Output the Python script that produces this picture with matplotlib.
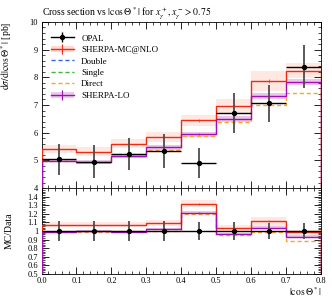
import numpy as np
import matplotlib
matplotlib.use("Agg")
import matplotlib.pyplot as plt
from matplotlib.lines import Line2D
from matplotlib.patches import Patch
from matplotlib.ticker import MultipleLocator

plt.rcParams['font.family'] = ['Liberation Serif', 'DejaVu Serif']
plt.rcParams['mathtext.fontset'] = 'stix'

# bins in |cos Theta*|
edges = np.array([0.0, 0.1, 0.2, 0.3, 0.4, 0.5, 0.6, 0.7, 0.8])

# OPAL data
data = np.array([5.04, 4.96, 5.22, 5.34, 4.90, 6.72, 7.06, 8.38])
data_err = np.array([0.57, 0.58, 0.58, 0.60, 0.54, 0.72, 0.66, 0.78])

# Sherpa-MC@NLO
nlo = np.array([5.40, 5.32, 5.61, 5.85, 6.45, 6.96, 7.86, 8.24])
nlo_band = np.array([0.15, 0.15, 0.17, 0.18, 0.20, 0.24, 0.36, 0.27])
nlo_err = np.array([0.04, 0.04, 0.05, 0.05, 0.06, 0.07, 0.08, 0.09])

# components
double = np.array([0.01, 0.01, 0.01, 0.01, 0.02, 0.02, 0.03, 0.04])
single = np.array([0.02, 0.03, 0.04, 0.08, 0.06, 0.10, 0.30, 0.38])
direct = np.array([4.97, 4.93, 5.22, 5.36, 5.88, 6.40, 7.00, 7.42])

# Sherpa-LO
lo = np.array([4.99, 4.94, 5.16, 5.47, 5.95, 6.50, 7.32, 7.83])
lo_band = np.array([0.06, 0.06, 0.07, 0.08, 0.09, 0.10, 0.12, 0.12])
lo_err = np.array([0.03, 0.03, 0.03, 0.04, 0.04, 0.05, 0.05, 0.06])

red = '#ee2a10'
blue = '#3366ee'
green = '#33bb33'
orange = '#ffa520'
purple = '#a010b0'

centers = 0.5 * (edges[1:] + edges[:-1])
halfw = 0.5 * np.diff(edges)

fig = plt.figure(figsize=(3.32, 3.00), dpi=100)
ax = fig.add_axes([0.125, 0.373, 0.842, 0.554])
rax = fig.add_axes([0.125, 0.087, 0.842, 0.286], sharex=ax)


def draw(a, d, d_err, n, n_band, n_err, dbl, sgl, dr, l, l_band, l_err):
    a.stairs(n + n_band, edges, baseline=n - n_band, fill=True, color='#ffd8d0', alpha=0.6, lw=0)
    a.stairs(l + l_band, edges, baseline=l - l_band, fill=True, color='#e0a0e0', alpha=0.6, lw=0)
    a.errorbar(centers, d, yerr=d_err, fmt='none', ecolor='0.3', elinewidth=1.3, zorder=5)
    a.errorbar(centers, d, xerr=halfw, fmt='none', ecolor='black', elinewidth=1.0, zorder=5)
    a.plot(centers, d, 'o', color='black', ms=2.8, zorder=6)
    a.stairs(n, edges, color=red, lw=1.0, zorder=4)
    a.errorbar(centers, n, yerr=n_err, fmt='none', ecolor=red, elinewidth=0.8, alpha=0.6, zorder=4)
    a.stairs(dbl, edges, color=blue, lw=1.0, ls=(0, (3, 2)), zorder=3)
    a.stairs(sgl, edges, color=green, lw=1.0, ls=(0, (3, 2)), zorder=3)
    a.stairs(dr, edges, color=orange, lw=1.0, ls=(0, (3, 2)), zorder=3)
    a.stairs(l, edges, color=purple, lw=1.0, zorder=4)
    a.errorbar(centers, l, yerr=l_err, fmt='none', ecolor=purple, elinewidth=0.8, alpha=0.6, zorder=4)


draw(ax, data, data_err, nlo, nlo_band, nlo_err, double, single, direct, lo, lo_band, lo_err)
draw(rax, data / data, data_err / data, nlo / data, nlo_band / data, nlo_err / data,
     double / data, single / data, direct / data, lo / data, lo_band / data, lo_err / data)

ax.set_xlim(0, 0.8)
ax.set_ylim(4, 10)
rax.set_ylim(0.5, 1.5)

for a in (ax, rax):
    a.tick_params(which='both', direction='in', top=True, right=True, labelsize=6, pad=2.5)
    a.tick_params(which='major', length=5, width=0.6)
    a.tick_params(which='minor', length=2.5, width=0.5)
    a.xaxis.set_major_locator(MultipleLocator(0.1))
    a.xaxis.set_minor_locator(MultipleLocator(0.02))
    for s in a.spines.values():
        s.set_linewidth(0.6)
ax.yaxis.set_major_locator(MultipleLocator(1))
ax.yaxis.set_minor_locator(MultipleLocator(0.2))
rax.set_yticks(np.arange(0.5, 1.45, 0.1))
rax.set_yticklabels(['0.5', '0.6', '0.7', '0.8', '0.9', '1', '1.1', '1.2', '1.3', '1.4'])
rax.yaxis.set_minor_locator(MultipleLocator(0.02))
ax.tick_params(labelbottom=False)

ax.set_title(r"Cross section vs $|\cos\Theta^*|$ for $x_\gamma^+, x_\gamma^- > 0.75$",
             loc='left', fontsize=7, pad=4)
ax.set_ylabel(r"$\mathrm{d}\sigma/\mathrm{d}|\cos\Theta^*|$ [pb]", loc='top', fontsize=7)
ax.yaxis.set_label_coords(-0.1, 1.0)
rax.set_ylabel("MC/Data", fontsize=7)
rax.yaxis.set_label_coords(-0.1, 0.5)
rax.set_xlabel(r"$|\cos\Theta^*|$", loc='right', fontsize=7, labelpad=0)

handles = [
    (Line2D([], [], color='black', lw=1.0, marker='|', ms=7, mew=1.0),
     Line2D([], [], color='black', lw=0, marker='o', ms=2.8)),
    (Patch(facecolor='#ffd8d0', edgecolor='none'),
     Line2D([], [], color=red, lw=1.0, marker='|', ms=7, mew=0.8)),
    Line2D([], [], color=blue, lw=1.0, ls=(0, (3, 2))),
    Line2D([], [], color=green, lw=1.0, ls=(0, (3, 2))),
    Line2D([], [], color=orange, lw=1.0, ls=(0, (3, 2))),
    (Patch(facecolor='#efc8ef', edgecolor='none'),
     Line2D([], [], color=purple, lw=1.0, marker='|', ms=7, mew=0.8)),
]
labels = ['OPAL', 'SHERPA-MC@NLO', 'Double', 'Single', 'Direct', 'SHERPA-LO']
ax.legend(handles, labels, loc='upper left', frameon=False, fontsize=6.5,
          handlelength=2.6, handleheight=0.7, labelspacing=0.35, borderaxespad=0.6,
          bbox_to_anchor=(0.0, 0.98))

fig.savefig('out.png', dpi=100)
